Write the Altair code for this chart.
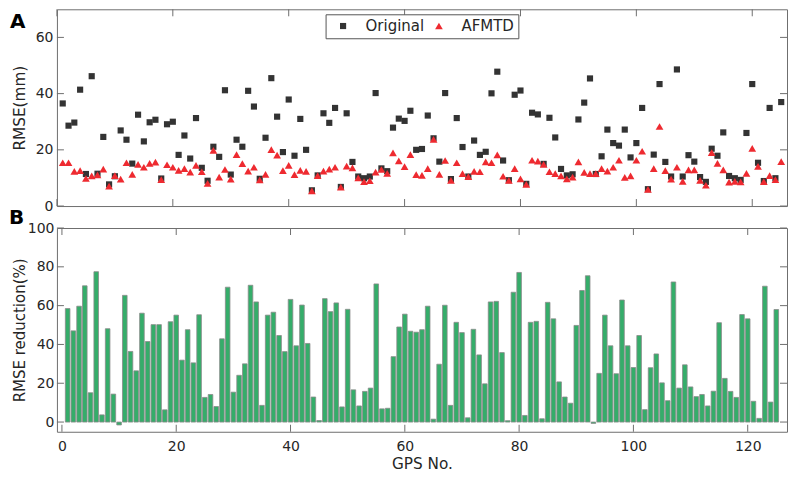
import altair as alt
import pandas as pd

# ---------------- data ----------------
gps = list(range(1, 126))
series_names = ["Original", "AFMTD"]
panel_labels = ["A", "B"]
x_ticks = [0, 20, 40, 60, 80, 100, 120]
rmse_ticks = [0, 20, 40, 60]
red_ticks = [0, 20, 40, 60, 80, 100]

original = [
    36.5, 28.6, 29.7, 41.4, 11.4, 46.2, 11.5, 24.6, 7.7, 10.6,
    26.9, 23.6, 15.1, 32.5, 23.0, 29.8, 30.7, 9.8, 29.1, 30.0,
    18.2, 25.1, 16.9, 31.3, 13.6, 9.0, 21.1, 17.5, 41.2, 11.2,
    23.6, 21.1, 41.0, 35.4, 9.7, 24.3, 45.5, 31.8, 19.2, 37.9,
    17.9, 31.0, 20.0, 5.6, 10.9, 33.0, 29.6, 34.9, 6.8, 33.0,
    15.7, 10.5, 9.9, 10.5, 40.2, 13.4, 12.4, 27.9, 31.1, 30.3,
    33.9, 20.0, 20.3, 32.2, 24.1, 15.8, 40.2, 9.6, 31.3, 21.0,
    10.5, 23.3, 18.2, 19.3, 40.1, 47.8, 16.2, 9.2, 39.6, 41.1,
    7.9, 33.2, 32.6, 15.0, 31.4, 24.4, 13.2, 10.9, 11.3, 30.8,
    36.8, 45.4, 11.4, 17.7, 27.2, 22.4, 21.5, 27.2, 17.3, 22.4,
    34.9, 6.0, 18.3, 43.4, 15.7, 10.5, 48.6, 10.5, 18.1, 15.8,
    10.3, 8.6, 20.4, 17.9, 26.2, 10.7, 9.9, 9.3, 26.0, 43.4,
    15.4, 8.9, 34.9, 9.9, 37.0,
]
afmtd = [
    15.4, 15.4, 12.3, 12.6, 9.8, 10.7, 11.1, 13.1, 7.1, 10.8,
    9.6, 15.4, 11.3, 14.8, 13.8, 15.2, 15.6, 9.4, 14.7, 13.8,
    12.7, 13.3, 12.1, 14.5, 12.2, 8.1, 19.8, 10.3, 13.0, 9.6,
    18.3, 15.1, 12.4, 13.8, 9.3, 11.3, 20.1, 18.1, 12.6, 14.5,
    11.2, 12.7, 12.3, 5.4, 10.8, 12.4, 13.1, 13.8, 6.7, 14.2,
    13.6, 10.0, 8.7, 9.0, 12.1, 13.0, 11.6, 18.9, 16.1, 14.0,
    18.3, 11.2, 10.9, 13.3, 23.7, 11.3, 16.2, 9.1, 15.4, 11.5,
    10.5, 12.3, 12.2, 15.7, 15.4, 18.2, 10.6, 9.1, 13.3, 9.7,
    7.7, 16.3, 16.0, 14.8, 12.2, 11.5, 10.7, 9.7, 10.3, 15.7,
    12.0, 11.5, 11.5, 13.3, 12.4, 13.8, 16.3, 10.2, 10.7, 16.3,
    19.5, 5.9, 13.3, 28.3, 12.6, 9.6, 13.8, 8.8, 12.9, 12.9,
    9.1, 7.4, 19.0, 15.2, 12.9, 8.5, 8.8, 8.6, 11.6, 20.5,
    14.1, 8.7, 10.8, 9.4, 15.8,
]
reduction = [
    58.5, 47.0, 59.7, 70.2, 15.1, 77.5, 3.7, 48.1, 14.4, -1.5,
    65.3, 36.4, 26.4, 56.1, 41.5, 50.2, 50.2, 6.3, 51.7, 55.1,
    31.9, 47.6, 30.5, 55.3, 12.7, 14.2, 8.0, 42.9, 69.5, 15.4,
    24.1, 30.0, 70.5, 61.9, 8.6, 55.1, 56.6, 44.6, 36.3, 63.2,
    39.3, 60.3, 40.5, 12.9, 0.8, 63.6, 56.9, 61.4, 7.8, 58.1,
    16.6, 8.3, 15.8, 17.5, 71.2, 6.8, 7.1, 33.7, 49.0, 55.6,
    46.8, 46.3, 47.6, 59.7, 1.5, 29.8, 60.2, 8.6, 51.4, 46.1,
    2.2, 47.8, 34.6, 19.7, 61.9, 62.2, 35.8, 0.7, 66.9, 77.1,
    3.4, 51.4, 51.9, 1.7, 61.7, 53.2, 20.7, 12.9, 9.7, 49.8,
    67.8, 75.4, -0.7, 25.1, 55.1, 39.3, 24.9, 62.9, 39.3, 28.1,
    44.6, 6.4, 28.0, 35.1, 20.2, 11.0, 72.2, 17.5, 29.5, 18.1,
    13.1, 14.2, 8.3, 15.9, 51.2, 22.5, 15.8, 12.7, 55.4, 53.2,
    10.7, 1.9, 70.0, 10.3, 58.0,
]

n = len(gps)
long_df = pd.DataFrame({
    "gps": gps + gps,
    "rmse": original + afmtd,
    "series": [series_names[0]] * n + [series_names[1]] * n,
    "ord": [0] * n + [1] * n,
})
bar_df = pd.DataFrame({"gps": gps, "red": reduction})
xt_df = pd.DataFrame({"v": x_ticks})
yt1_df = pd.DataFrame({"v": rmse_ticks})
yt2_df = pd.DataFrame({"v": red_ticks})

# ---------------- style ----------------
FONT = "DejaVu Sans"
TXT = "#262626"
FRAME = "#6e6e6e"
W = 731
H1 = 197
H2 = 204
TK = 7

xs = alt.Scale(domain=[0, 126], nice=False, zero=False)
ys1 = alt.Scale(domain=[0, 70], nice=False)
ys2 = alt.Scale(domain=[-5, 100], nice=False)


def lab_axis(orient, values, title, lp, tp, tfs=15.3):
    return alt.Axis(orient=orient, values=values, ticks=False, domain=False,
                    grid=False, labelFont=FONT, labelFontSize=14,
                    labelColor=TXT, labelPadding=lp, labelFlush=False,
                    title=title, titleFont=FONT, titleFontSize=tfs,
                    titleFontWeight="normal", titleColor=TXT, titlePadding=tp)


ax_a_y = lab_axis("left", rmse_ticks, "RMSE(mm)", lp=4, tp=8)
ax_b_x = lab_axis("bottom", x_ticks, "GPS No.", lp=8, tp=3)
ax_b_y = lab_axis("left", red_ticks, "RMSE reduction(%)", lp=3, tp=0, tfs=15)


def tick_layers(ys, ydf, H, xaxis, yaxis):
    bx = alt.Chart(xt_df).mark_rule(color=FRAME, strokeWidth=1)
    by = alt.Chart(ydf).mark_rule(color=FRAME, strokeWidth=1)
    xenc = alt.X("v:Q", scale=xs, axis=xaxis)
    yenc = alt.Y("v:Q", scale=ys, axis=yaxis)
    return [
        bx.encode(x=xenc, y=alt.value(H - TK), y2=alt.value(H)),
        bx.encode(x=xenc, y=alt.value(0), y2=alt.value(TK)),
        by.encode(y=yenc, x=alt.value(0), x2=alt.value(TK)),
        by.encode(y=yenc, x=alt.value(W - TK), x2=alt.value(W)),
    ]


# ---------------- panel A ----------------
pts = alt.Chart(long_df).mark_point(filled=True, opacity=1, strokeWidth=0).encode(
    x=alt.X("gps:Q", scale=xs, axis=None),
    y=alt.Y("rmse:Q", scale=ys1, axis=ax_a_y),
    shape=alt.Shape("series:N",
                    scale=alt.Scale(domain=series_names, range=["square", "triangle-up"]),
                    legend=alt.Legend(title=None)),
    color=alt.Color("series:N",
                    scale=alt.Scale(domain=series_names, range=["#333333", "#ee2a30"]),
                    legend=alt.Legend(title=None)),
    size=alt.Size("series:N",
                  scale=alt.Scale(domain=series_names, range=[38, 60]),
                  legend=None),
    order=alt.Order("ord:Q"),
)
lab_a = alt.Chart(pd.DataFrame({"t": [panel_labels[0]]})).mark_text(
    font=FONT, fontSize=20, fontWeight="bold", color="#000000",
    align="left", baseline="alphabetic").encode(
    text="t:N", x=alt.value(-47), y=alt.value(19))

top = alt.layer(pts, *tick_layers(ys1, yt1_df, H1, None, ax_a_y), lab_a).properties(
    width=W, height=H1)

# ---------------- panel B ----------------
bars = alt.Chart(bar_df).mark_bar(size=4.6, orient="vertical", color="#35ad6a",
                                  stroke="#8a8a8a", strokeWidth=0.8).encode(
    x=alt.X("gps:Q", scale=xs, axis=ax_b_x),
    y=alt.Y("red:Q", scale=ys2, axis=ax_b_y),
)
lab_b = alt.Chart(pd.DataFrame({"t": [panel_labels[1]]})).mark_text(
    font=FONT, fontSize=20, fontWeight="bold", color="#000000",
    align="left", baseline="alphabetic").encode(
    text="t:N", x=alt.value(-48), y=alt.value(-4))

bottom = alt.layer(bars, *tick_layers(ys2, yt2_df, H2, ax_b_x, ax_b_y), lab_b).properties(
    width=W, height=H2)

chart = alt.vconcat(top, bottom, spacing=22, bounds="flush").properties(
    padding=0, background="white"
).configure_view(
    stroke=FRAME, strokeWidth=1
).configure_legend(
    orient="none", legendX=269, legendY=5, direction="horizontal",
    strokeColor="#555555", fillColor="white", padding=4,
    symbolOffset=6, labelOffset=15, columnPadding=1,
    labelFont=FONT, labelFontSize=15, labelColor=TXT,
    symbolSize=40, symbolStrokeWidth=0,
)

chart.save("out.html", embed_options={"renderer": "svg", "actions": False})
